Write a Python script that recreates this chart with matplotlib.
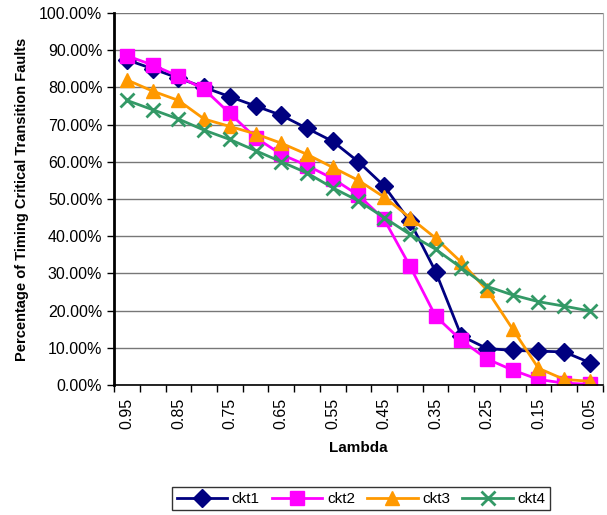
import matplotlib.pyplot as plt
from matplotlib.ticker import FixedLocator, PercentFormatter

plt.rcParams['font.family'] = ['Liberation Sans', 'DejaVu Sans']

lambdas = ['0.95', '0.90', '0.85', '0.80', '0.75', '0.70', '0.65', '0.60', '0.55', '0.50',
           '0.45', '0.40', '0.35', '0.30', '0.25', '0.20', '0.15', '0.10', '0.05']
ckt1 = [87.4, 85.0, 82.5, 80.0, 77.5, 75.0, 72.5, 69.0, 65.5, 60.0,
        53.5, 44.0, 30.5, 13.2, 9.8, 9.3, 9.1, 8.9, 6.0]
ckt2 = [88.5, 86.0, 83.0, 79.5, 73.0, 66.5, 62.0, 59.0, 55.5, 51.0,
        44.5, 32.0, 18.5, 12.0, 7.0, 4.0, 1.5, 0.5, 0.2]
ckt3 = [82.0, 79.0, 76.5, 71.5, 69.5, 67.5, 65.0, 62.0, 58.5, 55.0,
        50.5, 45.0, 39.5, 33.0, 25.5, 15.0, 4.5, 1.5, 1.0]
ckt4 = [76.5, 74.0, 71.5, 68.5, 66.0, 63.0, 60.0, 57.0, 53.0, 49.5,
        45.0, 40.5, 36.5, 31.5, 26.5, 24.2, 22.4, 21.2, 19.9]

fig = plt.figure(figsize=(6.07, 5.15), dpi=100)
ax = fig.add_axes([0.188, 0.2524, 0.805, 0.7224])

x = list(range(len(lambdas)))
ax.plot(x, ckt1, color='#000080', lw=2, marker='D', markersize=9, label='ckt1')
ax.plot(x, ckt2, color='#FF00FF', lw=2, marker='s', markersize=10, label='ckt2')
ax.plot(x, ckt3, color='#FF9900', lw=2, marker='^', markersize=10, label='ckt3')
ax.plot(x, ckt4, color='#339966', lw=2, marker='x', markersize=10, mew=2, label='ckt4')

ax.set_xlim(-0.5, len(lambdas) - 0.5)
ax.set_ylim(0, 100)
ax.yaxis.set_major_locator(FixedLocator([i * 10 for i in range(11)]))
ax.yaxis.set_major_formatter(PercentFormatter(decimals=2))
ax.grid(axis='y', color='#777777', lw=1)
ax.set_axisbelow(True)

# category boundaries as ticks, labels on every other category
ax.set_xticks([i - 0.5 for i in range(len(lambdas) + 1)])
ax.set_xticklabels([])
ax.set_xticks(x[::2], minor=True)
ax.set_xticklabels(lambdas[::2], minor=True, rotation=90)
ax.tick_params(axis='x', which='major', direction='out', length=5, width=1)
ax.tick_params(axis='x', which='minor', length=0, pad=9, labelsize=11.5)
ax.tick_params(axis='y', direction='out', length=5, width=1, labelsize=11.5)

ax.spines['top'].set_visible(False)
ax.spines['right'].set_color('#aaaaaa')
ax.spines['left'].set_linewidth(2)
ax.spines['bottom'].set_linewidth(1.2)

ax.set_xlabel('Lambda', fontweight='bold', fontsize=11, labelpad=9)
ax.set_ylabel('Percentage of Timing Critical Transition Faults', fontweight='bold', fontsize=10.5,
              labelpad=7)

leg = fig.legend(loc='lower center', bbox_to_anchor=(0.595, -0.006), ncol=4, frameon=True,
                 fancybox=False, edgecolor='black', fontsize=11, handlelength=3.3,
                 columnspacing=0.8, handletextpad=0.3, borderpad=0.3)
leg.get_frame().set_linewidth(1)

fig.savefig('out.png', dpi=100)
